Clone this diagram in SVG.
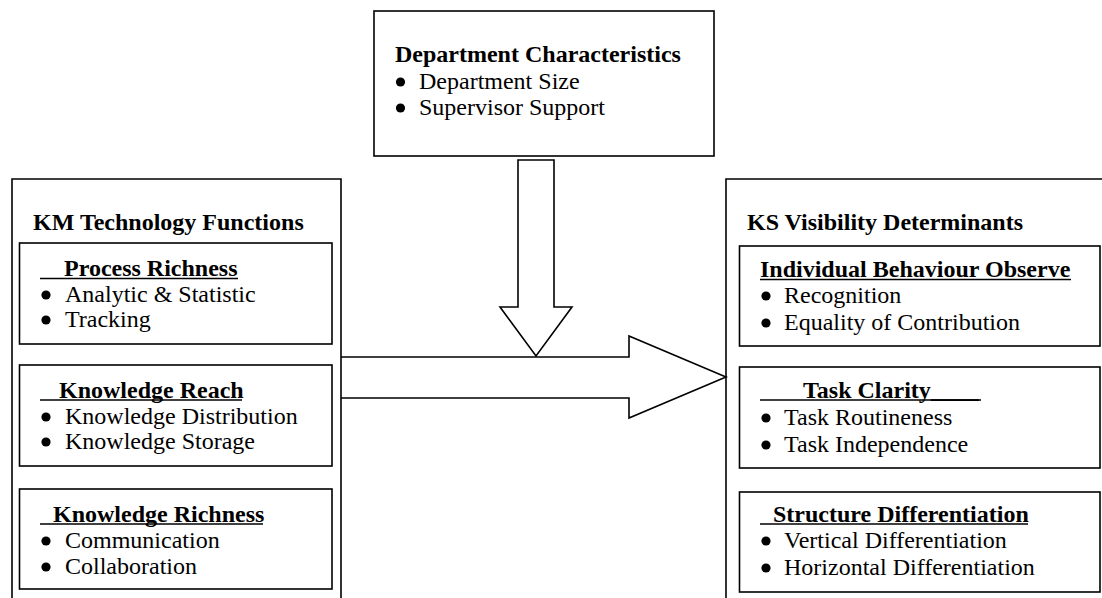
<svg xmlns="http://www.w3.org/2000/svg" width="1102" height="598" viewBox="0 0 1102 598">
<style>
.box{fill:#fff;stroke:#000;stroke-width:1.6}
.open{fill:none;stroke:#000;stroke-width:1.6}
.arr{fill:#fff;stroke:#000;stroke-width:1.6;stroke-linejoin:miter}
.ul{stroke:#000;stroke-width:1.6}
text{font-family:"Liberation Serif","Times New Roman",serif;font-size:24px;fill:#000}
.b{font-weight:bold}
.dot{fill:#000}
</style>
<rect width="1102" height="598" fill="#fff"/>
<g id="connectors">
<path class="arr" d="M518,160 H554 V307 H572 L536,356 L500,307 H518 Z"/>
<path class="arr" d="M341,357 H629 V336 L726,377 L629,418 V398 H341"/>
</g>
<g id="dept">
<rect class="box" x="374" y="11" width="340" height="145"/>
<text class="b" x="395" y="62">Department Characteristics</text>
<circle class="dot" cx="400.5" cy="82" r="4.6"/>
<text x="419" y="89">Department Size</text>
<circle class="dot" cx="400.5" cy="108" r="4.6"/>
<text x="419" y="115">Supervisor Support</text>
</g>
<g id="km">
<path class="open" d="M12,600 V179 H341 V600"/>
<text class="b" x="33" y="230">KM Technology Functions</text>
</g>
<g id="process-richness">
<rect class="box" x="19.5" y="243" width="312.5" height="101"/>
<text class="b" x="64" y="276">Process Richness</text>
<line class="ul" x1="40" y1="278.5" x2="238" y2="278.5"/>
<circle class="dot" cx="46" cy="295" r="4.6"/>
<text x="65" y="302">Analytic &amp; Statistic</text>
<circle class="dot" cx="46" cy="320" r="4.6"/>
<text x="65" y="327">Tracking</text>
</g>
<g id="knowledge-reach">
<rect class="box" x="19.5" y="365" width="312.5" height="101"/>
<text class="b" x="59" y="397.5">Knowledge Reach</text>
<line class="ul" x1="40" y1="400" x2="242" y2="400"/>
<circle class="dot" cx="46" cy="417" r="4.6"/>
<text x="65" y="424">Knowledge Distribution</text>
<circle class="dot" cx="46" cy="442" r="4.6"/>
<text x="65" y="449">Knowledge Storage</text>
</g>
<g id="knowledge-richness">
<rect class="box" x="19.5" y="489" width="312.5" height="100"/>
<text class="b" x="53" y="521.5">Knowledge Richness</text>
<line class="ul" x1="40" y1="524" x2="263" y2="524"/>
<circle class="dot" cx="46" cy="541" r="4.6"/>
<text x="65" y="548">Communication</text>
<circle class="dot" cx="46" cy="567" r="4.6"/>
<text x="65" y="574">Collaboration</text>
</g>
<g id="ks">
<path class="open" d="M726,600 V179 H1104"/>
<text class="b" x="747" y="230">KS Visibility Determinants</text>
</g>
<g id="individual-behaviour">
<rect class="box" x="739.5" y="246" width="360.5" height="100"/>
<text class="b" x="760" y="277">Individual Behaviour Observe</text>
<line class="ul" x1="760" y1="279.5" x2="1071" y2="279.5"/>
<circle class="dot" cx="766" cy="296" r="4.6"/>
<text x="784" y="303">Recognition</text>
<circle class="dot" cx="766" cy="323" r="4.6"/>
<text x="784" y="330">Equality of Contribution</text>
</g>
<g id="task-clarity">
<rect class="box" x="739.5" y="367" width="360.5" height="101"/>
<text class="b" x="803" y="397.5">Task Clarity____</text>
<line class="ul" x1="760" y1="400" x2="981" y2="400"/>
<circle class="dot" cx="766" cy="418" r="4.6"/>
<text x="784" y="425">Task Routineness</text>
<circle class="dot" cx="766" cy="445" r="4.6"/>
<text x="784" y="452">Task Independence</text>
</g>
<g id="structure-differentiation">
<rect class="box" x="739.5" y="492" width="360.5" height="100"/>
<text class="b" x="773" y="521.5">Structure Differentiation</text>
<line class="ul" x1="760" y1="524" x2="1028" y2="524"/>
<circle class="dot" cx="766" cy="541" r="4.6"/>
<text x="784" y="548">Vertical Differentiation</text>
<circle class="dot" cx="766" cy="568" r="4.6"/>
<text x="784" y="575">Horizontal Differentiation</text>
</g>
</svg>
